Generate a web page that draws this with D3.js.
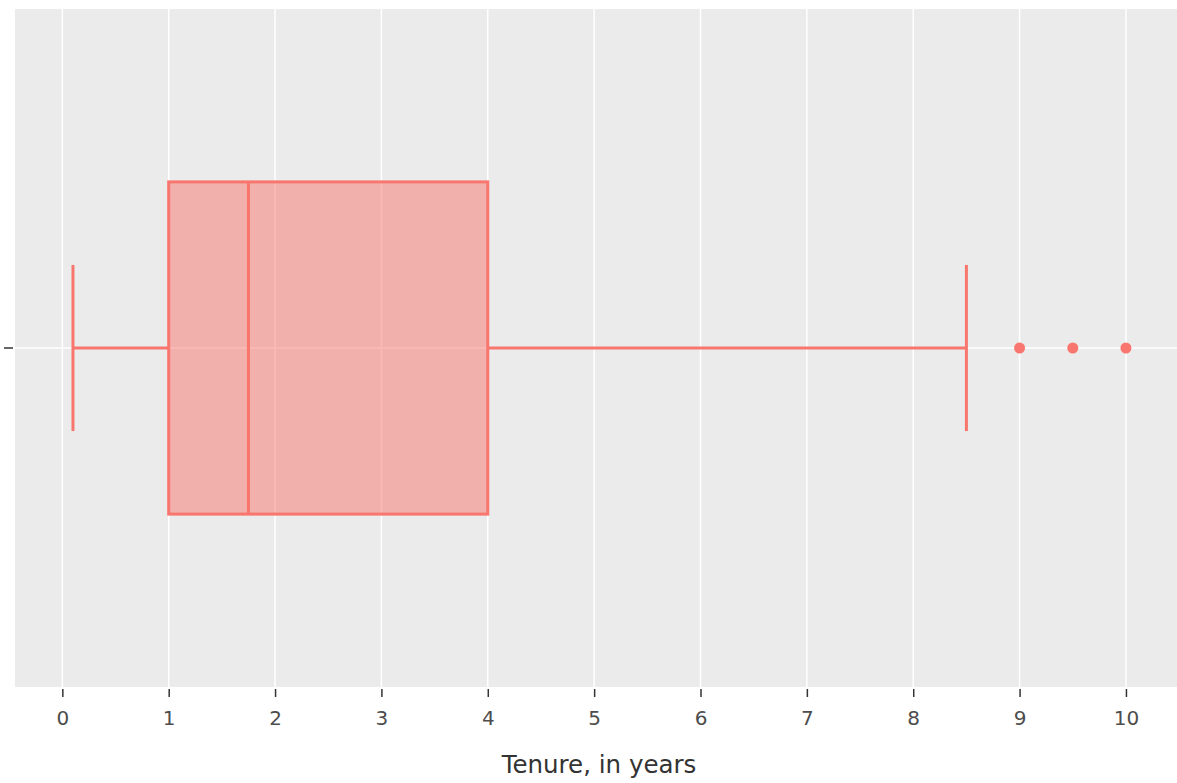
<!DOCTYPE html>
<html>
<head>
<meta charset="utf-8">
<script src="https://cdn.jsdelivr.net/npm/d3@7"></script>
<style>
  html, body { margin: 0; padding: 0; background: #fff; }
  svg { display: block; font-family: "DejaVu Sans", sans-serif; }
</style>
</head>
<body>
<svg id="chart" width="1177" height="783"></svg>
<script>
// Tenure distribution summary (years)
const groups = [""];
const whiskerLow = [0.1];
const q1 = [1];
const median = [1.75];
const q3 = [4];
const whiskerHigh = [8.5];
const outliers = [9, 9.5, 10];
const xTicks = [0, 1, 2, 3, 4, 5, 6, 7, 8, 9, 10];
const xLabel = "Tenure, in years";

const W = 1177, H = 783;
const margin = { top: 9, right: 0, bottom: 96, left: 15 };
const pw = W - margin.left - margin.right;
const ph = H - margin.top - margin.bottom;
const color = "#f8766d";

const svg = d3.select("#chart");
const g = svg.append("g").attr("transform", `translate(${margin.left},${margin.top})`);

const x = d3.scaleLinear().domain([-0.445, 10.48]).range([0, pw]);
const y = d3.scaleBand().domain(groups).range([0, ph]).paddingInner(0).paddingOuter(0);

// panel background
g.append("rect").attr("width", pw).attr("height", ph).attr("fill", "#ebebeb");

// grid lines
g.selectAll(".vgrid").data(xTicks).join("line")
  .attr("x1", d => x(d)).attr("x2", d => x(d))
  .attr("y1", 0).attr("y2", ph)
  .attr("stroke", "#fff").attr("stroke-width", 1.5);
g.selectAll(".hgrid").data(groups).join("line")
  .attr("x1", 0).attr("x2", pw)
  .attr("y1", d => y(d) + y.bandwidth() / 2).attr("y2", d => y(d) + y.bandwidth() / 2)
  .attr("stroke", "#fff").attr("stroke-width", 1.5);

// box plot
const boxH = ph * 0.49;
const capH = boxH / 2;
groups.forEach((grp, i) => {
  const cy = y(grp) + y.bandwidth() / 2;
  const bg = g.append("g");
  // whiskers
  bg.append("line").attr("x1", x(whiskerLow[i])).attr("x2", x(q1[i]))
    .attr("y1", cy).attr("y2", cy).attr("stroke", color).attr("stroke-width", 3);
  bg.append("line").attr("x1", x(q3[i])).attr("x2", x(whiskerHigh[i]))
    .attr("y1", cy).attr("y2", cy).attr("stroke", color).attr("stroke-width", 3);
  // caps
  [whiskerLow[i], whiskerHigh[i]].forEach(v => {
    bg.append("line").attr("x1", x(v)).attr("x2", x(v))
      .attr("y1", cy - capH / 2).attr("y2", cy + capH / 2)
      .attr("stroke", color).attr("stroke-width", 3);
  });
  // box
  bg.append("rect")
    .attr("x", x(q1[i])).attr("y", cy - boxH / 2)
    .attr("width", x(q3[i]) - x(q1[i])).attr("height", boxH)
    .attr("fill", color).attr("fill-opacity", 0.5)
    .attr("stroke", color).attr("stroke-width", 3);
  // median
  bg.append("line").attr("x1", x(median[i])).attr("x2", x(median[i]))
    .attr("y1", cy - boxH / 2).attr("y2", cy + boxH / 2)
    .attr("stroke", color).attr("stroke-width", 3);
  // outliers
  bg.selectAll("circle").data(outliers).join("circle")
    .attr("cx", d => x(d)).attr("cy", cy).attr("r", 5.5).attr("fill", color);
});

// x axis: ticks offset slightly below the panel
const xAxis = g.append("g").attr("transform", `translate(0,${ph + 2})`)
  .call(d3.axisBottom(x).tickValues(xTicks).tickFormat(d3.format("d")).tickSize(8).tickPadding(0));
xAxis.select(".domain").remove();
xAxis.selectAll(".tick line").attr("stroke", "#333").attr("stroke-width", 1.5);
xAxis.selectAll(".tick text")
  .attr("y", 0).attr("dy", null)
  .attr("transform", "translate(0,36)")
  .attr("fill", "#4d4d4d").attr("font-size", 20).attr("font-family", "DejaVu Sans");

// y axis (single tick)
const yAxis = g.append("g").attr("transform", "translate(-2,0)")
  .call(d3.axisLeft(y).tickSize(9).tickPadding(4));
yAxis.select(".domain").remove();
yAxis.selectAll(".tick line").attr("stroke", "#333").attr("stroke-width", 1.5);

// axis title
svg.append("text")
  .attr("x", margin.left + pw / 2 + 3).attr("y", 773)
  .attr("text-anchor", "middle")
  .attr("fill", "#333").attr("font-size", 24.5).attr("font-family", "DejaVu Sans")
  .text(xLabel);
</script>
</body>
</html>
